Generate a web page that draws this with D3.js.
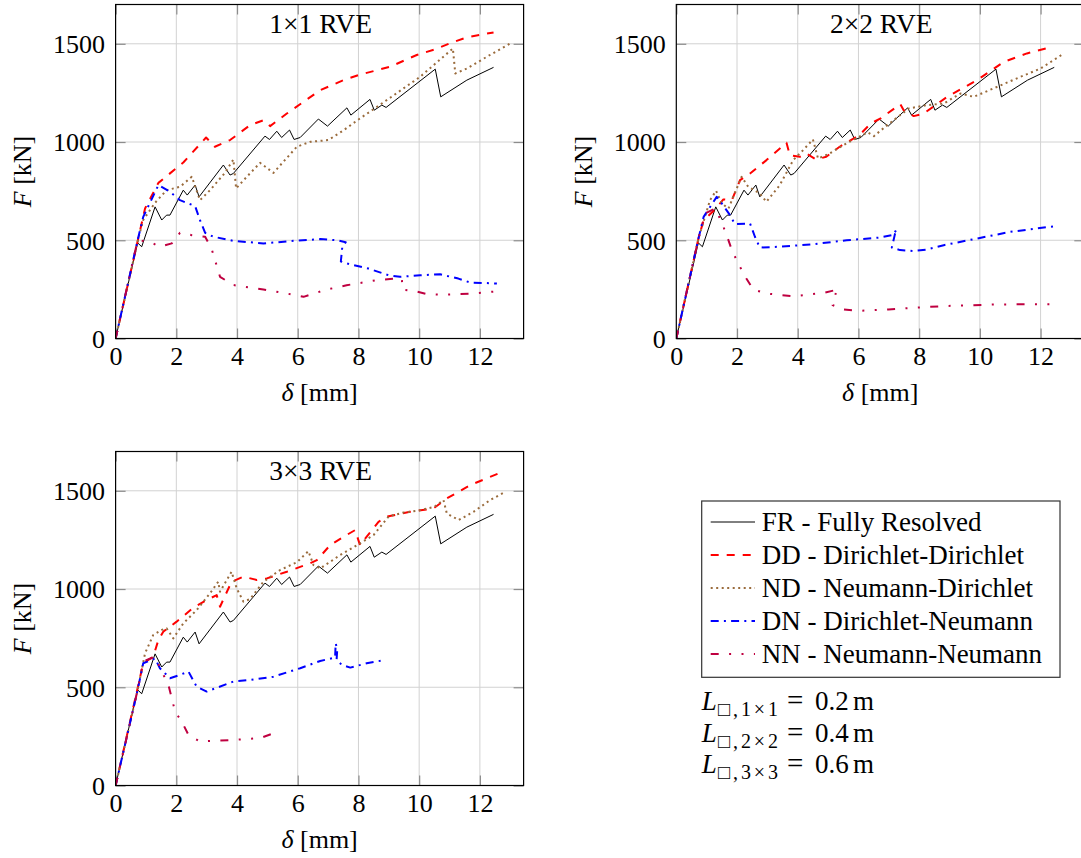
<!DOCTYPE html>
<html><head><meta charset="utf-8">
<script src="https://cdn.jsdelivr.net/npm/d3@7"></script>
<style>body{margin:0;background:#fff}svg{display:block}text{font-family:"Liberation Serif","Times New Roman",serif;fill:#000}</style>
</head><body>
<script>
// ---------- data ----------
const deltaTicks = [0, 2, 4, 6, 8, 10, 12];
const forceTicks = [0, 500, 1000, 1500];
const panelTitles = ["1×1 RVE", "2×2 RVE", "3×3 RVE"];
const seriesNames = ["FR - Fully Resolved", "DD - Dirichlet-Dirichlet", "ND - Neumann-Dirichlet", "DN - Dirichlet-Neumann", "NN - Neumann-Neumann"];
const sizeLabels = ["1×1", "2×2", "3×3"];
const sizeValues = ["0.2", "0.4", "0.6"];

// Fully resolved (same in every panel)
const frDelta = [0, 0.725, 0.86, 1.30, 1.52, 1.68, 1.79, 2.23, 2.36, 2.62, 2.75, 3.55, 3.77, 3.88, 4.92, 5.07, 5.31, 5.47, 5.73, 5.88, 6.08, 6.68, 6.98, 7.62, 7.75, 8.38, 8.52, 8.77, 8.91, 10.53, 10.71, 11.57, 12.45];
const frForce = [0, 487, 467, 670, 603, 628, 628, 755, 730, 781, 721, 883, 832, 840, 1030, 1013, 1055, 1023, 1061, 1013, 1023, 1117, 1081, 1174, 1137, 1217, 1162, 1188, 1176, 1371, 1230, 1315, 1380];

// 1x1 RVE
const dd1Delta = [0, 0.97, 1.41, 2.23, 2.98, 3.27, 3.77, 4.43, 4.87, 5.09, 5.64, 6.74, 7.51, 8.0, 9.04, 9.92, 10.53, 11.02, 11.57, 12.45];
const dd1Force = [0, 662, 792, 896, 1023, 976, 1010, 1086, 1111, 1081, 1145, 1264, 1315, 1341, 1383, 1443, 1472, 1503, 1533, 1558];
const nd1Delta = [0, 0.75, 0.91, 1.30, 1.68, 2.12, 2.51, 2.78, 3.11, 3.60, 3.88, 3.97, 4.32, 4.76, 5.20, 5.97, 6.41, 7.01, 7.51, 8.05, 8.93, 10.03, 11.11, 11.19, 11.57, 12.23, 13.0];
const nd1Force = [0, 510, 603, 691, 755, 772, 823, 704, 755, 843, 911, 764, 823, 894, 843, 976, 1001, 1010, 1060, 1120, 1213, 1332, 1476, 1349, 1374, 1434, 1502];
const dn1Delta = [0, 0.725, 0.91, 1.41, 1.79, 2.12, 2.62, 2.78, 2.95, 3.22, 3.88, 4.87, 5.86, 6.74, 7.30, 7.58, 7.47, 7.42, 7.67, 8.33, 8.99, 9.37, 10.03, 10.69, 11.29, 11.68, 12.56];
const dn1Force = [0, 500, 619, 781, 747, 704, 674, 602, 538, 518, 497, 484, 497, 506, 500, 490, 470, 392, 380, 356, 322, 314, 322, 327, 305, 285, 280];
const nn1Delta = [0, 0.725, 1.13, 1.46, 1.85, 2.12, 2.51, 2.95, 3.16, 3.44, 3.88, 4.87, 5.64, 6.19, 6.95, 7.61, 8.6, 9.04, 9.43, 9.45, 9.86, 10.25, 10.8, 11.68, 12.34, 12.72];
const nn1Force = [0, 500, 492, 467, 484, 538, 526, 518, 458, 314, 272, 249, 229, 212, 249, 271, 297, 303, 305, 249, 241, 226, 223, 228, 237, 242];

// 2x2 RVE
const dd2Delta = [0, 0.73, 0.90, 1.28, 1.55, 1.83, 2.10, 2.43, 2.97, 3.63, 3.74, 4.07, 4.28, 4.61, 4.94, 5.38, 6.03, 6.40, 6.73, 7.38, 7.49, 7.82, 8.15, 8.92, 9.91, 10.79, 11.55, 12.27];
const dd2Force = [0, 509, 602, 657, 708, 704, 806, 840, 908, 996, 933, 925, 942, 911, 925, 976, 1035, 1094, 1120, 1193, 1162, 1132, 1145, 1230, 1315, 1408, 1451, 1480];
const nd2Delta = [0, 0.73, 1.11, 1.31, 1.50, 1.72, 2.15, 2.37, 2.75, 2.97, 3.41, 3.85, 4.18, 4.50, 4.67, 5.05, 5.60, 6.03, 6.30, 6.51, 6.95, 7.66, 8.26, 8.81, 9.36, 9.80, 10.57, 11.34, 12.0, 12.77];
const nd2Force = [0, 509, 704, 752, 687, 662, 823, 772, 738, 696, 781, 908, 959, 1013, 916, 942, 993, 1027, 1050, 1030, 1086, 1171, 1188, 1196, 1247, 1230, 1281, 1332, 1374, 1451];
const dn2Delta = [0, 0.73, 0.90, 1.33, 1.50, 1.77, 1.93, 2.43, 2.59, 2.75, 3.41, 4.51, 5.61, 6.71, 7.15, 7.25, 7.20, 7.10, 7.37, 7.81, 8.25, 8.81, 9.91, 11.01, 12.49];
const dn2Force = [0, 509, 619, 721, 687, 628, 582, 585, 518, 463, 467, 480, 500, 514, 527, 555, 530, 463, 450, 445, 453, 475, 509, 543, 572];
const nn2Delta = [0, 0.73, 0.95, 1.28, 1.50, 1.66, 1.83, 2.04, 2.26, 2.54, 2.97, 3.86, 4.84, 5.23, 5.30, 5.15, 5.50, 6.05, 6.99, 8.03, 8.81, 10.46, 12.38];
const nn2Force = [0, 509, 636, 662, 589, 526, 450, 382, 317, 249, 229, 215, 232, 246, 258, 170, 148, 141, 148, 158, 165, 173, 175];

// 3x3 RVE
const dd3Delta = [0, 0.91, 1.24, 1.41, 1.57, 2.01, 2.56, 3.0, 3.33, 3.44, 3.82, 4.21, 4.65, 4.98, 5.64, 6.41, 6.63, 7.07, 7.51, 7.89, 8.05, 8.66, 8.93, 9.70, 10.47, 10.91, 11.68, 12.61];
const dd3Force = [0, 622, 656, 741, 783, 834, 905, 944, 969, 910, 1037, 1063, 1046, 1054, 1088, 1131, 1147, 1224, 1266, 1300, 1224, 1342, 1368, 1393, 1410, 1461, 1529, 1588];
const nd3Delta = [0, 0.725, 0.97, 1.24, 1.52, 1.68, 1.90, 2.23, 2.67, 3.11, 3.38, 3.44, 3.82, 3.99, 4.21, 4.43, 4.87, 5.42, 5.97, 6.35, 6.52, 6.74, 7.40, 8.05, 8.50, 9.00, 9.50, 10.0, 10.50, 10.80, 10.91, 11.30, 11.79, 12.34, 12.84];
const nd3Force = [0, 486, 673, 766, 792, 800, 749, 825, 893, 978, 1037, 986, 1088, 1003, 936, 949, 1037, 1097, 1136, 1193, 1122, 1105, 1173, 1232, 1275, 1370, 1390, 1400, 1418, 1453, 1385, 1351, 1393, 1453, 1495];
const dn3Delta = [0, 0.725, 0.91, 1.30, 1.46, 1.79, 2.12, 2.40, 2.67, 3.0, 3.88, 4.43, 5.20, 6.08, 6.74, 7.23, 7.25, 7.30, 7.28, 7.45, 7.73, 8.27, 8.88];
const dn3Force = [0, 486, 622, 647, 597, 546, 563, 580, 503, 478, 529, 537, 554, 597, 634, 651, 724, 690, 640, 614, 600, 622, 639];
const nn3Delta = [0, 0.725, 0.91, 1.30, 1.52, 1.74, 1.96, 2.18, 2.40, 2.78, 3.88, 4.76, 5.20];
const nn3Force = [0, 486, 631, 656, 580, 512, 376, 325, 258, 224, 232, 241, 266];

// ---------- build ----------
const W = 1081, H = 858;
const svg = d3.select("body").append("svg").attr("width", W).attr("height", H);

const styles = [
  {color: "#000000", width: 1, dash: null},
  {color: "#ff0000", width: 2, dash: "8,8"},
  {color: "#9a6b3c", width: 2, dash: "2,3.5"},
  {color: "#0000ff", width: 2, dash: "8,5.2,2,5.2"},
  {color: "#bf0040", width: 2, dash: "8,10.4,2,10.4,2,10.4"}
];

const zip = (a, b) => a.map((d, i) => [d, b[i]]);
const panels = [
  {left: 115.6, top: 4.5, title: panelTitles[0], series: [zip(frDelta, frForce), zip(dd1Delta, dd1Force), zip(nd1Delta, nd1Force), zip(dn1Delta, dn1Force), zip(nn1Delta, nn1Force)]},
  {left: 676.3, top: 4.5, title: panelTitles[1], series: [zip(frDelta, frForce), zip(dd2Delta, dd2Force), zip(nd2Delta, nd2Force), zip(dn2Delta, dn2Force), zip(nn2Delta, nn2Force)]},
  {left: 115.6, top: 451.5, title: panelTitles[2], series: [zip(frDelta, frForce), zip(dd3Delta, dd3Force), zip(nd3Delta, nd3Force), zip(dn3Delta, dn3Force), zip(nn3Delta, nn3Force)]}
];
const pw = 408, ph = 334;

panels.forEach((p, pi) => {
  const g = svg.append("g").attr("transform", `translate(${p.left},${p.top})`);
  const x = d3.scaleLinear().domain([0, 13.44]).range([0, pw]);
  const y = d3.scaleLinear().domain([0, 1700]).range([ph, 0]);
  const clipId = "clip" + pi;
  g.append("clipPath").attr("id", clipId).append("rect").attr("width", pw).attr("height", ph);

  // grid
  g.append("g").selectAll("line").data(deltaTicks.slice(1)).join("line")
    .attr("x1", d => x(d)).attr("x2", d => x(d)).attr("y1", 0).attr("y2", ph)
    .attr("stroke", "#d2d2d2").attr("stroke-width", 1);
  g.append("g").selectAll("line").data(forceTicks.slice(1)).join("line")
    .attr("y1", d => y(d)).attr("y2", d => y(d)).attr("x1", 0).attr("x2", pw)
    .attr("stroke", "#d2d2d2").attr("stroke-width", 1);

  // axes via d3
  const tl = 10;
  const xAx = g.append("g").attr("transform", `translate(0,${ph})`)
    .call(d3.axisBottom(x).tickValues(deltaTicks).tickSize(-tl).tickPadding(8).tickFormat(d3.format("d")));
  const xAxTop = g.append("g").call(d3.axisTop(x).tickValues(deltaTicks).tickSize(-tl).tickFormat(""));
  const yAx = g.append("g")
    .call(d3.axisLeft(y).tickValues(forceTicks).tickSize(-tl).tickPadding(10.5).tickFormat(d3.format("d")));
  const yAxR = g.append("g").attr("transform", `translate(${pw},0)`)
    .call(d3.axisRight(y).tickValues(forceTicks).tickSize(-tl).tickFormat(""));
  [xAx, xAxTop, yAx, yAxR].forEach(a => {
    a.select(".domain").remove();
    a.selectAll(".tick line").attr("stroke", "#8c8c8c").attr("stroke-width", 1.2);
    a.selectAll(".tick text").style("font-family", "'Liberation Serif',serif").style("font-size", "26px").attr("fill", "#000");
  });
  xAx.selectAll(".tick text").attr("dy", "0.71em").attr("y", 8);
  yAx.selectAll(".tick text").attr("dy", "0.34em");

  // curves
  const line = d3.line().x(d => x(d[0])).y(d => y(d[1]));
  const cg = g.append("g").attr("clip-path", `url(#${clipId})`);
  p.series.forEach((s, si) => {
    const st = styles[si];
    cg.append("path").attr("d", line(s)).attr("fill", "none")
      .attr("stroke", st.color).attr("stroke-width", st.width)
      .attr("stroke-dasharray", st.dash).attr("stroke-linejoin", "round");
  });

  // frame
  g.append("rect").attr("width", pw).attr("height", ph).attr("fill", "none").attr("stroke", "#000").attr("stroke-width", 1.2);

  // title
  g.append("text").attr("x", pw / 2 + 1).attr("y", 28.5).attr("text-anchor", "middle").style("font-size", "27.5px").text(p.title);

  // axis labels
  const xl = g.append("text").attr("x", pw / 2).attr("y", ph + 62).attr("text-anchor", "middle").style("font-size", "26px");
  xl.append("tspan").style("font-style", "italic").text("δ");
  xl.append("tspan").text(" [mm]");
  const yl = g.append("text").attr("transform", `translate(${-p.left + 31 + (pi === 1 ? 560.7 : 0)},${ph / 2}) rotate(-90)`).attr("text-anchor", "middle").style("font-size", "26px");
  yl.append("tspan").style("font-style", "italic").text("F");
  yl.append("tspan").text(" [kN]");
});

// legend
const lg = svg.append("g");
lg.append("rect").attr("x", 701.7).attr("y", 501).attr("width", 358.3).attr("height", 176.3)
  .attr("fill", "#fff").attr("stroke", "#333").attr("stroke-width", 1.2);
seriesNames.forEach((name, i) => {
  const cy = 522 + i * 33;
  const st = styles[i];
  lg.append("line").attr("x1", 710.7).attr("x2", 755).attr("y1", cy).attr("y2", cy)
    .attr("stroke", st.color).attr("stroke-width", st.width).attr("stroke-dasharray", st.dash);
  lg.append("text").attr("x", 761.7).attr("y", cy + 9).style("font-size", "27px").text(name);
});

// sizes text
sizeLabels.forEach((lab, i) => {
  const by = 710 + i * 31.7;
  const t = svg.append("g");
  t.append("text").attr("x", 701.7).attr("y", by).style("font-size", "27px").style("font-style", "italic").text("L");
  t.append("text").attr("x", 718).attr("y", by + 6).style("font-size", "20px")
    .attr("textLength", 60).attr("lengthAdjust", "spacing").text("□," + lab);
  t.append("text").attr("x", 787).attr("y", by).style("font-size", "29px").text("=");
  t.append("text").attr("x", 815).attr("y", by).style("font-size", "27px").text(sizeValues[i]);
  t.append("text").attr("x", 853).attr("y", by).style("font-size", "27px").text("m");
});
</script>
</body></html>
